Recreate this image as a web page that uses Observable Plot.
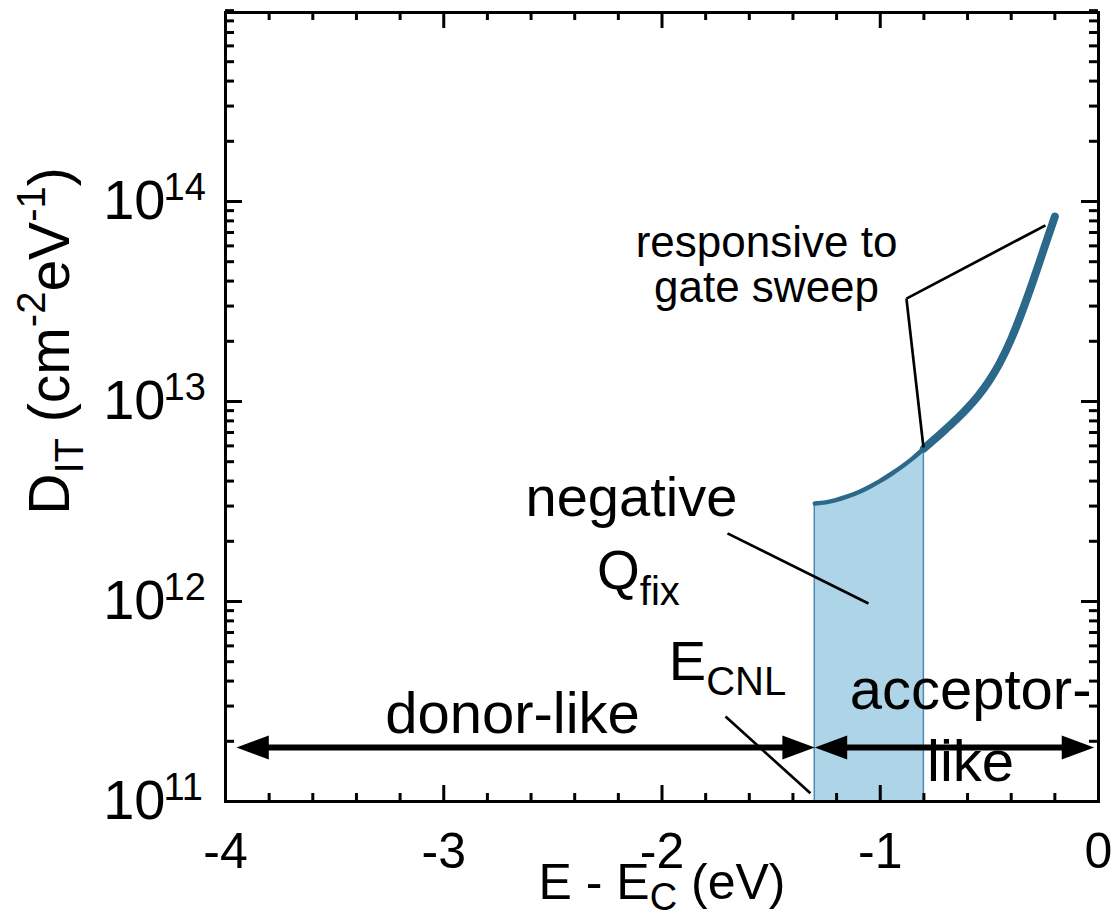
<!DOCTYPE html>
<html><head><meta charset="utf-8">
<script src="https://cdn.jsdelivr.net/npm/d3@7"></script>
<script src="https://cdn.jsdelivr.net/npm/@observablehq/plot@0.6"></script>
<style>html,body{margin:0;padding:0;background:#fff} svg{display:block}</style>
</head><body><div id="chart"></div>
<script>
// ---- data ----
const energy = [-1.3, -1.25, -1.2, -1.15, -1.1, -1.05, -1.0, -0.95, -0.9, -0.85, -0.8,
                -0.75, -0.7, -0.65, -0.6, -0.55, -0.5, -0.45, -0.4, -0.35, -0.3, -0.25, -0.2];
const dit    = [3.09e12, 3.13e12, 3.22e12, 3.35e12, 3.52e12, 3.74e12, 4.01e12, 4.34e12, 4.73e12, 5.21e12, 5.82e12,
                6.49e12, 7.27e12, 8.17e12, 9.28e12, 1.072e13, 1.274e13, 1.576e13, 2.053e13, 2.818e13, 4.0e13, 5.8e13, 8.4e13];
const qfixRange = [-1.3, -0.8];          // shaded (negative Q_fix) band
const arrowLevel = 1.86e11;
const donorSpan = [-3.95, -1.3];
const acceptorSpan = [-1.3, -0.02];

const xTickValues = [-4, -3, -2, -1, 0];
const xTickLabels = ["-4", "-3", "-2", "-1", "0"];
const xMinorTicks = [-3.8,-3.6,-3.4,-3.2,-2.8,-2.6,-2.4,-2.2,-1.8,-1.6,-1.4,-1.2,-0.8,-0.6,-0.4,-0.2];
const xMajorTicks = [-3, -2, -1];
const yTickValues = [1e11, 1e12, 1e13, 1e14];
const yTickExponents = ["11", "12", "13", "14"];
const yMajorTicks = [1e12, 1e13, 1e14];
const yMantissas = [2, 3, 4, 5, 6, 7, 8, 9];
const yDecades = [1e11, 1e12, 1e13, 1e14];

// annotation leader lines [x1, y1, x2, y2]
const leaders = [
  [-0.880, 3.27e13, -0.243, 7.6e13],
  [-0.880, 3.27e13, -0.802, 5.9e12],
  [-1.700, 2.19e12, -1.054, 9.77e11],
  [-1.709, 2.66e11, -1.320, 1.10e11]
];

// ---- layout ----
const W = 1120, H = 916, mL = 225, mR = 22, mT = 12, mB = 115;
const PW = W - mL - mR, PH = H - mT - mB;
const FONT = "'Liberation Sans', Arial, Helvetica, sans-serif";
const lineColor = "#2c688a";
const fillColor = "#aed4e8";

const curve = energy.map((x, i) => ({x, y: dit[i]}));
const thin = curve.filter(d => d.x <= qfixRange[1] + 1e-9);
const thick = curve.filter(d => d.x >= qfixRange[1] - 1e-9);
const band = curve.filter(d => d.x >= qfixRange[0] - 1e-9 && d.x <= qfixRange[1] + 1e-9);
const yMinor = yDecades.flatMap(d => yMantissas.map(m => m * d));

const arrows = [
  {x1: donorSpan[0], x2: donorSpan[1], y: arrowLevel},
  {x1: acceptorSpan[0], x2: acceptorSpan[1], y: arrowLevel}
];
const heads = [
  {x: donorSpan[0], y: arrowLevel, rotate: 180},
  {x: donorSpan[1], y: arrowLevel, rotate: 0},
  {x: acceptorSpan[0], y: arrowLevel, rotate: 180},
  {x: acceptorSpan[1], y: arrowLevel, rotate: 0}
];
const tri = {draw(ctx, size) {
  const r = Math.sqrt(size / Math.PI);
  ctx.moveTo(0, 0); ctx.lineTo(-2.7 * r, -r); ctx.lineTo(-2.7 * r, r); ctx.closePath();
}};

const texts = [
  {x: -1.521, y: 3.13e13, t: "responsive to\ngate sweep", fs: 44, lh: 1.03},
  {x: -2.140, y: 2.69e12, t: "negative", fs: 56, lh: 1},
  {x: -2.108, y: 1.16e12, t: "Qfix", fs: 55, lh: 1},
  {x: -1.700, y: 4.03e11, t: "ECNL", fs: 56, lh: 1},
  {x: -2.685, y: 2.19e11, t: "donor-like", fs: 58, lh: 1},
  {x: -0.586, y: 1.27e11, t: "acceptor-\nlike", fs: 58, lh: 1.24}
];

const tickW = 3;
const marks = [
  Plot.areaY(band, {x: "x", y1: 1e11, y2: "y", fill: fillColor, stroke: "#4f8bb0", strokeWidth: 1.5, curve: "monotone-x"}),
  Plot.line(thin, {x: "x", y: "y", stroke: lineColor, strokeWidth: 4.5, curve: "monotone-x"}),
  Plot.line(thick, {x: "x", y: "y", stroke: lineColor, strokeWidth: 8, curve: "monotone-x"}),
  // arrows
  Plot.ruleY(arrows, {x1: "x1", x2: "x2", y: "y", stroke: "black", strokeWidth: 6, insetLeft: 16, insetRight: 16}),
  Plot.dot(heads, {x: "x", y: "y", rotate: "rotate", symbol: tri, r: 12, fill: "black", stroke: "none"}),
  // leader lines
  Plot.link(leaders, {x1: d => d[0], y1: d => d[1], x2: d => d[2], y2: d => d[3], stroke: "black", strokeWidth: 2.7}),
  // ticks (inward, mirrored)
  Plot.ruleX(xMinorTicks, {x: d => d, insetTop: PH - 8, stroke: "black", strokeWidth: tickW}),
  Plot.ruleX(xMinorTicks, {x: d => d, insetBottom: PH - 8, stroke: "black", strokeWidth: tickW}),
  Plot.ruleX(xMajorTicks, {x: d => d, insetTop: PH - 16, stroke: "black", strokeWidth: tickW}),
  Plot.ruleX(xMajorTicks, {x: d => d, insetBottom: PH - 16, stroke: "black", strokeWidth: tickW}),
  Plot.ruleY(yMinor, {y: d => d, insetRight: PW - 9, stroke: "black", strokeWidth: tickW}),
  Plot.ruleY(yMinor, {y: d => d, insetLeft: PW - 9, stroke: "black", strokeWidth: tickW}),
  Plot.ruleY(yMajorTicks, {y: d => d, insetRight: PW - 17, stroke: "black", strokeWidth: tickW}),
  Plot.ruleY(yMajorTicks, {y: d => d, insetLeft: PW - 17, stroke: "black", strokeWidth: tickW}),
  Plot.frame({stroke: "black", strokeWidth: 3}),
  // tick labels
  Plot.text(xTickValues, {x: d => d, frameAnchor: "bottom", text: (d, i) => xTickLabels[i],
    dy: 66, lineAnchor: "bottom", textAnchor: "middle", fontSize: 50, fill: "black"}),
  Plot.text(yTickValues, {y: d => d, frameAnchor: "left", text: () => "10", textAnchor: "end",
    dx: -60, lineAnchor: "middle", fontSize: 56, fill: "black"}),
  Plot.text(yTickValues, {y: d => d, frameAnchor: "left", text: (d, i) => yTickExponents[i], textAnchor: "start",
    dx: -62, dy: -2, lineAnchor: "bottom", fontSize: 38, fill: "black"}),
  // axis labels
  Plot.text([0], {x: -2, frameAnchor: "bottom", text: () => "E - EC (eV)", dy: 97, lineAnchor: "bottom",
    textAnchor: "middle", fontSize: 50, fill: "black"}),
  Plot.text([0], {frameAnchor: "left", text: () => "DIT (cm-2eV-1)", rotate: -90, dx: -175, dy: -66,
    lineAnchor: "middle", textAnchor: "middle", fontSize: 57, fill: "black"}),
  // annotations
  ...texts.map(d => Plot.text([d], {x: "x", y: "y", text: "t", fontSize: d.fs, lineHeight: d.lh,
    lineAnchor: "bottom", textAnchor: "middle", fill: "black"}))
];

const svg = Plot.plot({
  width: W, height: H,
  marginLeft: mL, marginRight: mR, marginTop: mT, marginBottom: mB,
  x: {domain: [-4, 0], axis: null},
  y: {type: "log", domain: [1e11, Math.pow(10, 14.945)], axis: null},
  style: {fontFamily: FONT, background: "white", color: "black"},
  marks
});

function richify(root, plain, parts, o) {
  d3.select(root).selectAll("text").filter(function () { return this.textContent === plain; }).each(function () {
    const t = d3.select(this);
    t.text(null);
    let cur = 0;
    for (const [s, kind] of parts) {
      const off = kind === "sub" ? o.sub : kind === "sup" ? o.sup : 0;
      t.append("tspan").attr("dy", (off - cur) + "px")
        .attr("font-size", kind ? o.small : o.size).text(s);
      cur = off;
    }
  });
}
richify(svg, "E - EC (eV)", [["E - E", ""], ["C", "sub"], [" (eV)", ""]], {size: 50, small: 38, sub: 11, sup: 0});
richify(svg, "DIT (cm-2eV-1)", [["D", ""], ["IT", "sub"], [" (cm", ""], ["-2", "sup"], ["eV", ""], ["-1", "sup"], [")", ""]],
  {size: 57, small: 40, sub: 14, sup: -24});
richify(svg, "Qfix", [["Q", ""], ["fix", "sub"]], {size: 55, small: 40, sub: 16, sup: 0});
richify(svg, "ECNL", [["E", ""], ["CNL", "sub"]], {size: 56, small: 40, sub: 15, sup: 0});

document.getElementById("chart").appendChild(svg);
</script>
</body></html>
